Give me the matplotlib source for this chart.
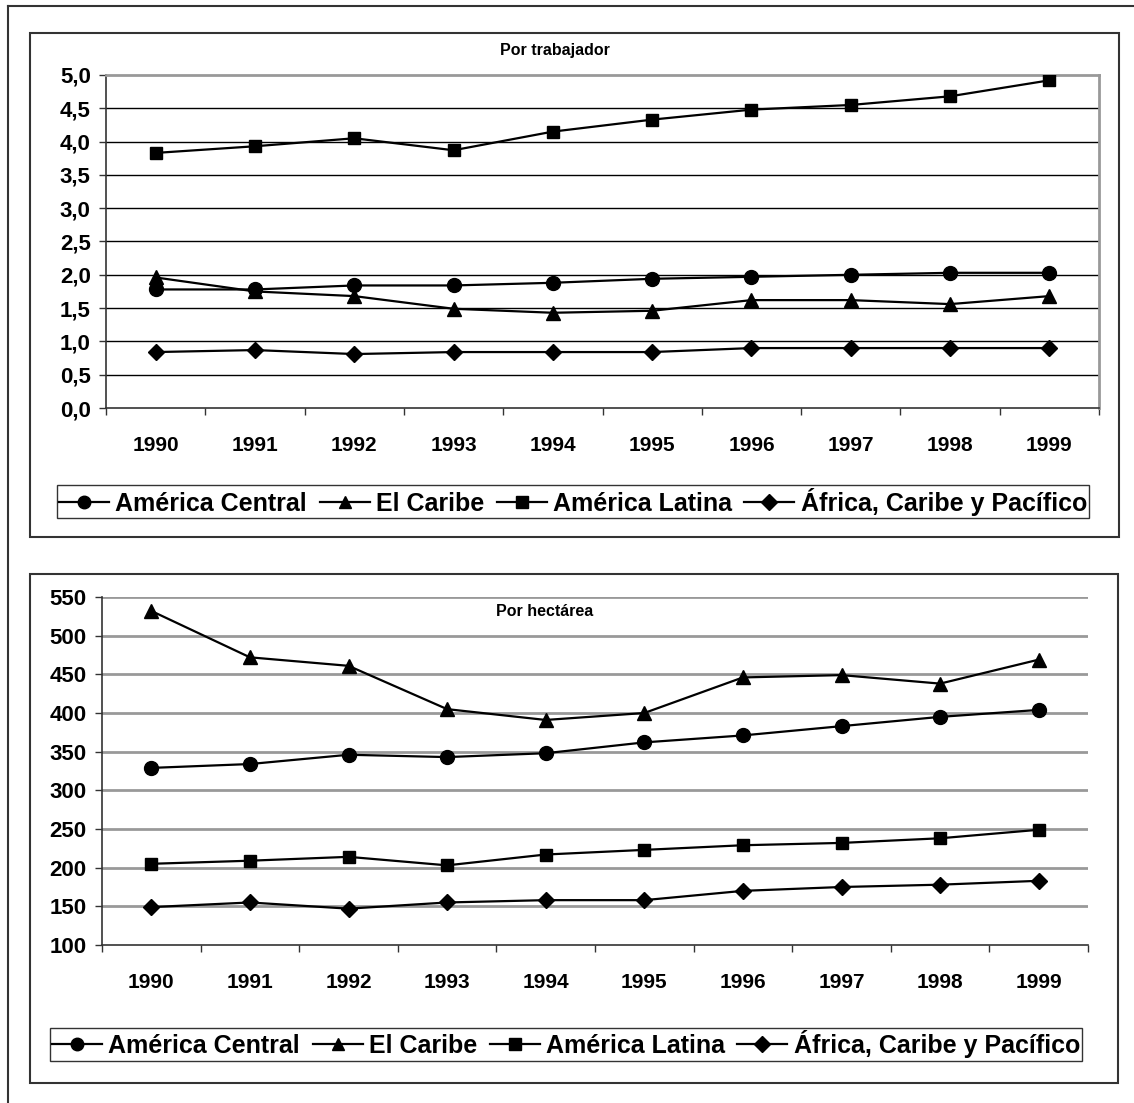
import matplotlib
matplotlib.use("Agg")
import matplotlib.pyplot as plt
from matplotlib.patches import Rectangle
from matplotlib.lines import Line2D

# Datos: productividad agrícola por trabajador y por hectárea
anios = ["1990", "1991", "1992", "1993", "1994", "1995", "1996", "1997", "1998", "1999"]
series = ["América Central", "El Caribe", "América Latina", "África, Caribe y Pacífico"]
marcadores = ["o", "^", "s", "D"]

trab_central = [1.78, 1.78, 1.84, 1.84, 1.88, 1.94, 1.97, 2.00, 2.03, 2.03]
trab_caribe = [1.96, 1.75, 1.68, 1.49, 1.43, 1.46, 1.62, 1.62, 1.56, 1.68]
trab_latina = [3.83, 3.93, 4.05, 3.87, 4.15, 4.33, 4.48, 4.55, 4.68, 4.92]
trab_acp = [0.84, 0.87, 0.81, 0.84, 0.84, 0.84, 0.90, 0.90, 0.90, 0.90]

ha_central = [329, 334, 346, 343, 348, 362, 371, 383, 395, 404]
ha_caribe = [532, 472, 461, 405, 391, 400, 446, 449, 438, 469]
ha_latina = [205, 209, 214, 203, 217, 223, 229, 232, 238, 249]
ha_acp = [149, 155, 147, 155, 158, 158, 170, 175, 178, 183]

ticks_trab = [0.0, 0.5, 1.0, 1.5, 2.0, 2.5, 3.0, 3.5, 4.0, 4.5, 5.0]
etiq_trab = ["0,0", "0,5", "1,0", "1,5", "2,0", "2,5", "3,0", "3,5", "4,0", "4,5", "5,0"]
ticks_ha = [100, 150, 200, 250, 300, 350, 400, 450, 500, 550]
etiq_ha = ["100", "150", "200", "250", "300", "350", "400", "450", "500", "550"]

W, H = 1134, 1103
fig = plt.figure(figsize=(W / 100, H / 100), dpi=100)

normal = ["Liberation Sans", "DejaVu Sans"]


def caja(x0, y0, x1, y1, lw=1.5, color="#333333"):
    # rectangulo en pixeles (origen arriba a la izquierda)
    r = Rectangle((x0 / W, 1 - y1 / H), (x1 - x0) / W, (y1 - y0) / H,
                  transform=fig.transFigure, fill=False, edgecolor=color,
                  linewidth=lw, zorder=0)
    fig.add_artist(r)


def ejes(x0, y0, x1, y1):
    return fig.add_axes([x0 / W, 1 - y1 / H, (x1 - x0) / W, (y1 - y0) / H])


def grafico(ax, datos, ticks, etiq, gris_grid):
    x = list(range(len(anios)))
    for vals, m in zip(datos, marcadores):
        ms = {"o": 10, "^": 10, "s": 9, "D": 8}[m]
        ax.plot(x, vals, color="black", lw=1.6, marker=m, ms=ms,
                markerfacecolor="black", markeredgecolor="black", zorder=3)
    ax.set_xlim(-0.5, len(anios) - 0.5)
    ax.set_ylim(ticks[0], ticks[-1])
    ax.set_yticks(ticks)
    ax.set_yticklabels(etiq, fontsize=16, fontweight="bold", family=normal)
    ax.set_xticks(x)
    ax.set_xticklabels(anios, fontsize=15, fontweight="bold", family=normal)
    ax.set_xticks([i - 0.5 for i in range(len(anios) + 1)], minor=True)
    ax.tick_params(axis="x", which="major", length=0, pad=20)
    ax.tick_params(axis="x", which="minor", length=5, width=1, color="#333333")
    ax.tick_params(axis="y", length=5, width=1, color="#333333", pad=6)
    for t in ticks[1:-1] if not gris_grid else ticks[1:]:
        ax.axhline(t, color="#999999" if gris_grid else "black",
                   lw=2 if gris_grid else 1, zorder=1)
    ax.spines["left"].set_color("#333333")
    ax.spines["bottom"].set_color("#333333")
    ax.spines["left"].set_linewidth(1.2)
    ax.spines["bottom"].set_linewidth(1.2)
    if gris_grid:
        ax.spines["top"].set_visible(False)
        ax.spines["right"].set_visible(False)
    else:
        ax.spines["top"].set_color("#999999")
        ax.spines["right"].set_color("#999999")
        ax.spines["top"].set_linewidth(2)
        ax.spines["right"].set_linewidth(2)


def leyenda(cx, cy, tam):
    handles = [Line2D([0], [0], color="black", lw=1.6, marker=m,
                      ms=9 if m != "D" else 8, markerfacecolor="black")
               for m in marcadores]
    leg = fig.legend(handles, series, loc="center", ncol=4,
                     bbox_to_anchor=(cx / W, 1 - cy / H),
                     frameon=True, fancybox=False,
                     edgecolor="black", handlelength=2.0, handletextpad=0.25,
                     columnspacing=0.5, borderpad=0.1, borderaxespad=0,
                     prop={"family": normal, "weight": "bold", "size": tam})
    leg.get_frame().set_linewidth(1.0)


# marco exterior
fig.add_artist(Line2D([8 / W, 8 / W], [0, 1 - 6 / H], transform=fig.transFigure,
                      color="#333333", lw=1.5))
fig.add_artist(Line2D([8 / W, 1], [1 - 6 / H, 1 - 6 / H], transform=fig.transFigure,
                      color="#333333", lw=1.5))

# grafico por trabajador
caja(30, 33, 1119, 537)
ax1 = ejes(106, 75, 1099, 408)
grafico(ax1, [trab_central, trab_caribe, trab_latina, trab_acp],
        ticks_trab, etiq_trab, False)
fig.text(555 / W, 1 - 51 / H, "Por trabajador", ha="center", va="center",
         fontsize=11.5, fontweight="bold", family=normal)
leyenda(573, 502, 18)

# grafico por hectarea
caja(30, 574, 1118, 1083)
ax2 = ejes(102, 597, 1088, 945)
grafico(ax2, [ha_central, ha_caribe, ha_latina, ha_acp],
        ticks_ha, etiq_ha, True)
fig.text(545 / W, 1 - 611 / H, "Por hectárea", ha="center", va="center",
         fontsize=11.5, fontweight="bold", family=normal)
leyenda(566, 1044, 18)

fig.savefig("out.png", dpi=100, facecolor="white")
